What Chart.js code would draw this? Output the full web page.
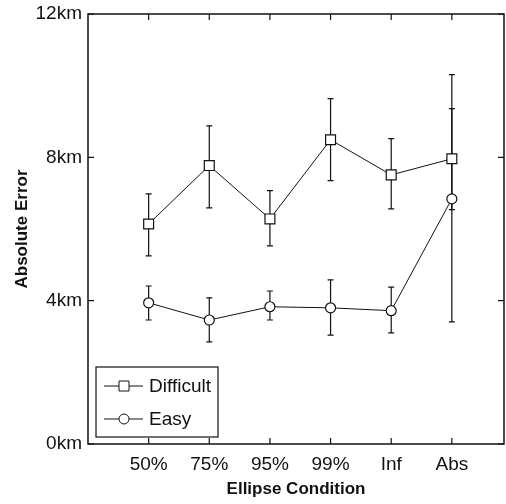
<!DOCTYPE html>
<html>
<head>
<meta charset="utf-8">
<script src="https://cdn.jsdelivr.net/npm/chart.js@4/dist/chart.umd.min.js"></script>
<style>
  html, body { margin: 0; padding: 0; background: #fff; overflow: hidden; }
  #wrap { width: 506px; height: 504px; }
</style>
</head>
<body>
<div id="wrap"><canvas id="errChart" width="506" height="504"></canvas></div>
<script>
const conditions = ['50%', '75%', '95%', '99%', 'Inf', 'Abs'];
const yTicks = [0, 4, 8, 12];

const difficult = [6.14, 7.77, 6.28, 8.49, 7.51, 7.96];
const difficultLow = [5.25, 6.59, 5.53, 7.35, 6.56, 6.54];
const difficultHigh = [6.98, 8.88, 7.07, 9.64, 8.52, 9.36];

const easy = [3.94, 3.46, 3.83, 3.80, 3.72, 6.84];
const easyLow = [3.46, 2.85, 3.46, 3.04, 3.10, 3.41];
const easyHigh = [4.41, 4.08, 4.27, 4.58, 4.38, 10.31];

const ink = '#111';
const FONT = '"Liberation Sans", Arial, sans-serif';

const toPoints = arr => arr.map((v, i) => ({ x: i + 1, y: v }));

// error bars, drawn under the markers
const errorBars = {
  id: 'errorBars',
  beforeDatasetsDraw(chart) {
    const { ctx, scales: { x, y } } = chart;
    const sets = [[difficultLow, difficultHigh], [easyLow, easyHigh]];
    ctx.save();
    ctx.strokeStyle = ink;
    ctx.lineWidth = 1.2;
    sets.forEach(([lo, hi]) => {
      lo.forEach((l, i) => {
        const px = x.getPixelForValue(i + 1);
        const y1 = y.getPixelForValue(l);
        const y2 = y.getPixelForValue(hi[i]);
        ctx.beginPath();
        ctx.moveTo(px, y1); ctx.lineTo(px, y2);
        ctx.moveTo(px - 3, y1); ctx.lineTo(px + 3, y1);
        ctx.moveTo(px - 3, y2); ctx.lineTo(px + 3, y2);
        ctx.stroke();
      });
    });
    ctx.restore();
  }
};

// box frame, inward ticks and the legend
const frame = {
  id: 'frame',
  afterDraw(chart) {
    const { ctx, chartArea: a, scales: { x, y } } = chart;
    ctx.save();
    ctx.strokeStyle = ink;
    ctx.lineWidth = 1.5;
    ctx.strokeRect(a.left, a.top, a.right - a.left, a.bottom - a.top);
    ctx.lineWidth = 1.2;
    ctx.beginPath();
    conditions.forEach((c, i) => {
      const px = x.getPixelForValue(i + 1);
      ctx.moveTo(px, a.bottom); ctx.lineTo(px, a.bottom - 6);
      ctx.moveTo(px, a.top); ctx.lineTo(px, a.top + 6);
    });
    yTicks.forEach(t => {
      const py = y.getPixelForValue(t);
      ctx.moveTo(a.left, py); ctx.lineTo(a.left + 6, py);
      ctx.moveTo(a.right, py); ctx.lineTo(a.right - 6, py);
    });
    ctx.stroke();

    // legend
    const lx = 96, ly = 367, lw = 122, lh = 70;
    ctx.fillStyle = '#fff';
    ctx.fillRect(lx, ly, lw, lh);
    ctx.lineWidth = 1.2;
    ctx.strokeRect(lx, ly, lw, lh);
    const rows = [['Difficult', 'rect', 386], ['Easy', 'circle', 419]];
    rows.forEach(([label, style, ry]) => {
      ctx.lineWidth = 1;
      ctx.beginPath();
      ctx.moveTo(104, ry); ctx.lineTo(143, ry);
      ctx.stroke();
      ctx.fillStyle = '#fff';
      ctx.beginPath();
      if (style === 'rect') ctx.rect(119, ry - 5, 10, 10);
      else ctx.arc(124, ry, 5, 0, Math.PI * 2);
      ctx.fill(); ctx.stroke();
      ctx.fillStyle = ink;
      ctx.font = '19px ' + FONT;
      ctx.textBaseline = 'middle';
      ctx.textAlign = 'left';
      ctx.fillText(label, 149, ry + 1);
    });
    ctx.restore();
  }
};

new Chart(document.getElementById('errChart'), {
  type: 'line',
  data: {
    datasets: [
      {
        label: 'Difficult',
        data: toPoints(difficult),
        borderColor: ink,
        borderWidth: 1,
        pointStyle: 'rect',
        pointRadius: 7,
        pointBackgroundColor: '#fff',
        pointBorderColor: ink,
        pointBorderWidth: 1.2
      },
      {
        label: 'Easy',
        data: toPoints(easy),
        borderColor: ink,
        borderWidth: 1,
        pointStyle: 'circle',
        pointRadius: 5,
        pointBackgroundColor: '#fff',
        pointBorderColor: ink,
        pointBorderWidth: 1.2
      }
    ]
  },
  options: {
    responsive: false,
    animation: false,
    layout: { autoPadding: false, padding: { left: 0, top: 14, right: 2, bottom: 0 } },
    plugins: {
      legend: { display: false },
      tooltip: { enabled: false }
    },
    scales: {
      x: {
        type: 'linear',
        min: 0,
        max: 6.86,
        grid: { display: false, drawTicks: false },
        border: { display: false },
        afterFit(s) { s.height = 60; s.paddingLeft = 0; s.paddingRight = 0; },
        afterBuildTicks(s) { s.ticks = conditions.map((c, i) => ({ value: i + 1 })); },
        ticks: {
          autoSkip: false,
          maxRotation: 0,
          padding: 9,
          color: ink,
          font: { family: FONT, size: 19 },
          callback: v => conditions[v - 1] ?? ''
        },
        title: {
          display: true,
          text: 'Ellipse Condition',
          color: ink,
          font: { family: FONT, size: 17, weight: 'bold' },
          padding: { top: 0, bottom: 4 }
        }
      },
      y: {
        min: 0,
        max: 12,
        grid: { display: false, drawTicks: false },
        border: { display: false },
        afterFit(s) { s.width = 88; s.paddingTop = 0; s.paddingBottom = 0; },
        afterBuildTicks(s) { s.ticks = yTicks.map(v => ({ value: v })); },
        ticks: {
          padding: 6,
          color: ink,
          font: { family: FONT, size: 19 },
          callback: v => v + 'km'
        },
        title: {
          display: true,
          text: 'Absolute Error',
          color: ink,
          font: { family: FONT, size: 17, weight: 'bold' },
          padding: { top: 12, bottom: 0 }
        }
      }
    }
  },
  plugins: [errorBars, frame]
});
</script>
</body>
</html>
